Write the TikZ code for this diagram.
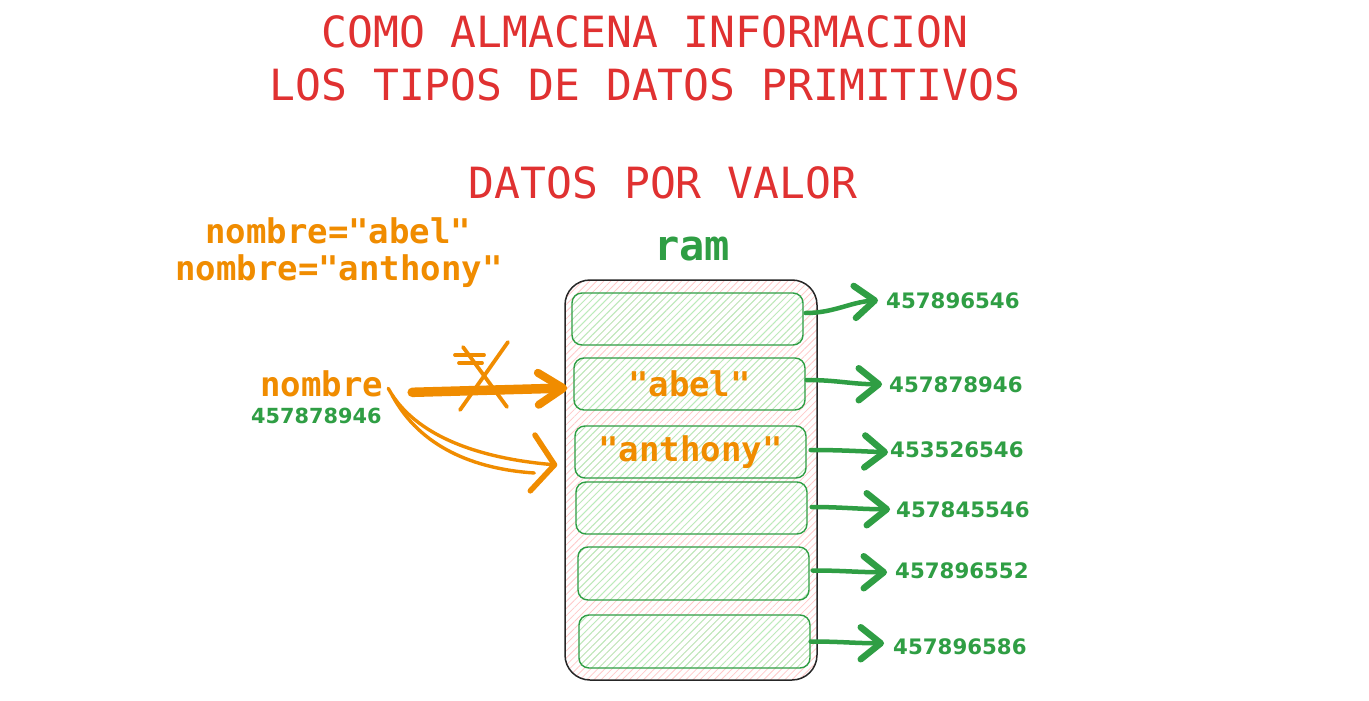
\documentclass[tikz,border=0pt]{standalone}
\usepackage{fontspec}
\newfontfamily\monof{DejaVu Sans Mono}
\newfontfamily\monob{DejaVu Sans Mono Bold}
\newfontfamily\numf{DejaVu Sans Bold}
\usetikzlibrary{arrows.meta,patterns.meta}
\definecolor{tred}{HTML}{E03131}
\definecolor{torange}{HTML}{F08C00}
\definecolor{tgreen}{HTML}{2F9E44}
\definecolor{hpink}{HTML}{FFC9C9}
\definecolor{hgreen}{HTML}{B2F2BB}
\begin{document}
\begin{tikzpicture}[x=1pt,y=-1pt,
  title/.style={text=tred, font=\monof\fontsize{43}{50}\selectfont, inner sep=0pt, anchor=base},
  otext/.style={text=torange, font=\monob\fontsize{34}{40}\selectfont, inner sep=0pt, anchor=base west},
  num/.style={text=tgreen, font=\numf\fontsize{21.3}{26}\selectfont, inner sep=0pt, anchor=base west},
  ramcase/.style={draw=black!85, line width=1.5pt, rounded corners=25pt,
    pattern={Lines[angle=45,distance=5pt,line width=0.8pt]}, pattern color=hpink,
    minimum width=252pt, minimum height=400pt, inner sep=0pt},
  cell/.style={draw=tgreen, line width=1.4pt, rounded corners=10pt,
    pattern={Lines[angle=45,distance=5pt,line width=0.8pt]}, pattern color=hgreen,
    minimum width=231pt, minimum height=52pt, inner sep=0pt,
    text=torange, font=\monob\fontsize{34}{40}\selectfont},
  garrow/.style={draw=tgreen, line width=4.5pt, line cap=round,
    -{Straight Barb[length=20pt,width=32pt,line width=6.5pt 0 0,round]}},
  oarrow/.style={draw=torange, line width=9.5pt, line cap=round,
    -{Straight Barb[length=25pt,width=32pt,line width=8pt 0 0,round]}},
  ocurve/.style={draw=torange, line width=3.4pt, line cap=round},
  crossmark/.style={draw=torange, line width=3.8pt, line cap=round}
]
\useasboundingbox (0,0) rectangle (1369,701);
\fill[white] (0,0) rectangle (1369,701);

% titles
\node[title] (t1) at (645,48) {COMO ALMACENA INFORMACION};
\node[title] (t2) at (645,101) {LOS TIPOS DE DATOS PRIMITIVOS};
\node[title] (t3) at (663,198) {DATOS POR VALOR};
\node[title, text=tgreen, font=\monob\fontsize{42}{50}\selectfont] (ramlabel) at (692,260) {ram};

% assignments
\node[otext] (assign1) at (205,243) {nombre="abel"};
\node[otext] (assign2) at (175,280) {nombre="anthony"};

% variable
\node[otext] (var) at (260,396) {nombre};
\node[num, font=\numf\fontsize{20.8}{26}\selectfont] (addr) at (251,423) {457878946};

% ram case and cells
\node[ramcase] (ram) at (691,480) {};
\node[cell] (c1) at (687.5,319) {};
\node[cell] (c2) at (689.5,384) {"abel"};
\node[cell] (c3) at (690.5,452) {"anthony"};
\node[cell] (c4) at (691.5,508) {};
\node[cell, minimum height=53pt] (c5) at (693.5,573.5) {};
\node[cell, minimum height=53pt] (c6) at (694.5,641.5) {};

% addresses
\node[num] (a1) at (886,308) {457896546};
\node[num] (a2) at (889,392) {457878946};
\node[num] (a3) at (890,457) {453526546};
\node[num] (a4) at (896,517) {457845546};
\node[num] (a5) at (895,578) {457896552};
\node[num] (a6) at (893,654) {457896586};

% green arrows
\draw[garrow] ([xshift=2pt,yshift=6pt]c1.east) .. controls +(28,0) and +(-28,2) .. ([xshift=-8pt]a1.west);
\draw[garrow] ([xshift=1pt,yshift=4pt]c2.east) .. controls +(30,0) and +(-30,0) .. ([xshift=-7pt]a2.west);
\draw[garrow] ([xshift=4pt,yshift=2pt]c3.east) .. controls +(30,0) and +(-30,-1) .. ([xshift=-2pt,yshift=-3pt]a3.west);
\draw[garrow] ([xshift=4pt,yshift=1pt]c4.east) .. controls +(30,0) and +(-30,0) .. ([xshift=-6pt]a4.west);
\draw[garrow] ([xshift=3pt,yshift=3pt]c5.east) .. controls +(30,0) and +(-30,0) .. ([xshift=-8pt,yshift=-2pt]a5.west);
\draw[garrow] (c6.east) .. controls +(30,0) and +(-30,0) .. ([xshift=-9pt,yshift=3pt]a6.west);

% orange arrow to "abel" (crossed out)
\draw[oarrow] ([xshift=29pt,yshift=-9pt]var.east) -- ([xshift=-6pt,yshift=-4pt]c2.west);
\draw[crossmark] (508,342) -- (460,410);
\draw[crossmark] (463,347) -- (507,407);
\draw[crossmark] (455,355) -- (484,355);
\draw[crossmark] (459,363) -- (482,363);

% orange arrow to "anthony"
\draw[ocurve, -{Straight Barb[length=22pt,width=56pt,line width=5.5pt 0 0,round]}]
  ([xshift=5pt,yshift=-5pt]var.east) .. controls +(30,55) and +(-60,-5) .. ([xshift=-17pt,yshift=-13pt]c3.west);
\draw[ocurve] ([xshift=9pt,yshift=-12pt]var.east) .. controls +(28,52) and +(-60,-4) .. ([xshift=-40pt,yshift=-21pt]c3.west);
\end{tikzpicture}
\end{document}
